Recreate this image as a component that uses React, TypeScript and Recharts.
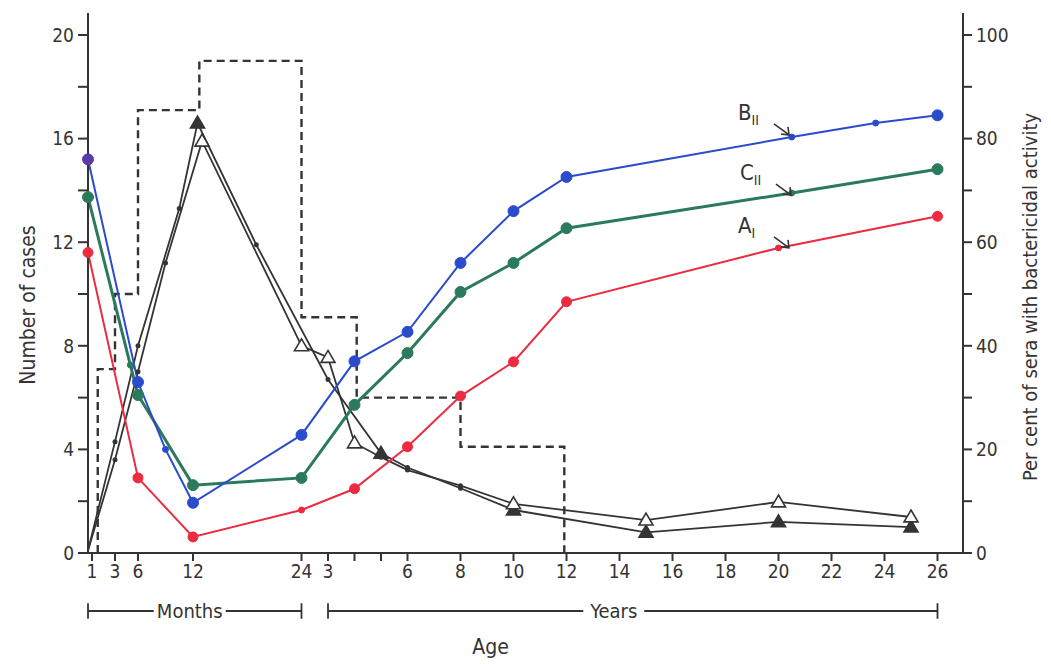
import {
  LineChart,
  Line,
  XAxis,
  YAxis,
  ReferenceLine,
  ReferenceDot,
  Label,
} from "recharts";

const FONT = '"DejaVu Sans Condensed", "DejaVu Sans", sans-serif';
const INK = "#363333";
const BLUE = "#2a4bcc";
const GREEN = "#2b7a5c";
const RED = "#ec2a40";

// age (months) -> position on the hand-drawn, non-uniform age axis
const AGE_ANCHORS: [number, number][] = [
  [0, 0],
  [1, 4],
  [3, 27],
  [6, 50],
  [12, 105],
  [24, 213.5],
  [312, 849.5],
];

function agePos(months: number): number {
  for (let i = 1; i < AGE_ANCHORS.length; i++) {
    const [m0, p0] = AGE_ANCHORS[i - 1];
    const [m1, p1] = AGE_ANCHORS[i];
    if (months <= m1) return p0 + ((months - m0) / (m1 - m0)) * (p1 - p0);
  }
  return AGE_ANCHORS[AGE_ANCHORS.length - 1][1];
}

const X_TICK_MONTHS = [1, 3, 6, 12, 24, 36, 48, 60, 72, 96, 120, 144, 168, 192, 216, 240, 264, 288, 312];
const X_TICK_LABELS = ["1", "3", "6", "12", "24", "3", "", "", "6", "8", "10", "12", "14", "16", "18", "20", "22", "24", "26"];

// per cent of sera with bactericidal activity
const B_AGE = [0, 6, 9, 12, 24, 48, 72, 96, 120, 144, 246, 284, 312];
const B_PCT = [76, 33, 20, 9.7, 22.8, 37, 42.7, 56, 66, 72.6, 80.3, 83, 84.5];
const B_MINOR = [9, 246, 284];

const C_AGE = [0, 5, 6, 12, 24, 48, 72, 96, 120, 144, 246, 312];
const C_PCT = [68.7, 36.3, 30.5, 13.1, 14.5, 28.6, 38.6, 50.4, 56, 62.7, 69.5, 74.1];
const C_MINOR = [5, 246];

const A_AGE = [0, 6, 12, 24, 48, 72, 96, 120, 144, 240, 312];
const A_PCT = [58, 14.5, 3.1, 8.3, 12.4, 20.5, 30.3, 36.9, 48.5, 58.9, 65];
const A_MINOR = [24, 240];

// number of cases (black lines)
const CLOSED_AGE = [0, 3, 6, 10.5, 12.5, 19, 36, 60, 72, 96, 120, 180, 240, 300];
const CLOSED_CASES = [0.1, 4.3, 8.0, 13.3, 16.6, 11.9, 6.7, 3.85, 3.3, 2.5, 1.66, 0.8, 1.2, 1.0];
const CLOSED_TRI = [12.5, 60, 120, 180, 240, 300];

const OPEN_AGE = [0, 3, 6, 9, 13, 24, 36, 48, 60, 72, 96, 120, 180, 240, 300];
const OPEN_CASES = [0.1, 3.6, 7.0, 11.2, 15.9, 8.0, 7.55, 4.25, 3.7, 3.2, 2.6, 1.9, 1.27, 1.97, 1.39];
const OPEN_TRI = [13, 24, 36, 48, 120, 180, 240, 300];

// histogram of cases, bin edges in months
const HIST_EDGES = [1.5, 3, 6, 12.7, 24, 49, 96, 143];
const HIST_CASES = [7.1, 10, 17.1, 19, 9.1, 6.0, 4.1];

const toRows = (ages: number[], vals: number[]) =>
  ages.map((age, i) => ({ age, pos: agePos(age), v: vals[i] }));

const blueRows = toRows(B_AGE, B_PCT);
const greenRows = toRows(C_AGE, C_PCT);
const redRows = toRows(A_AGE, A_PCT);
const closedRows = toRows(CLOSED_AGE, CLOSED_CASES);
const openRows = toRows(OPEN_AGE, OPEN_CASES);
const histRows = [
  { age: HIST_EDGES[0], pos: agePos(HIST_EDGES[0]), v: 0 },
  ...HIST_EDGES.map((e, i) => ({ age: e, pos: agePos(e), v: HIST_CASES[i] ?? 0 })),
];

const xTicks = X_TICK_MONTHS.map(agePos);
const xLabel = (v: number) => {
  const i = xTicks.findIndex((t) => Math.abs(t - v) < 0.01);
  return i >= 0 ? X_TICK_LABELS[i] : "";
};

const colorDot = (color: string, minor: number[], big: number, first?: string) =>
  (props: any) => {
    const { cx, cy, payload, index } = props;
    const r = minor.includes(payload.age) ? 3 : big;
    const fill = index === 0 && first ? first : color;
    return <circle key={`c${index}`} cx={cx} cy={cy} r={r} fill={fill} stroke={fill} />;
  };

const triDot = (tri: number[], open: boolean) => (props: any) => {
  const { cx, cy, payload, index } = props;
  if (payload.age === 0) return <g key={`t${index}`} />;
  if (!tri.includes(payload.age))
    return <circle key={`t${index}`} cx={cx} cy={cy} r={2.5} fill={INK} />;
  const s = 7;
  const d = `M${cx},${cy - s} L${cx + s},${cy + s * 0.7} L${cx - s},${cy + s * 0.7} Z`;
  return (
    <path
      key={`t${index}`}
      d={d}
      fill={open ? "#fff" : INK}
      stroke={INK}
      strokeWidth={1.6}
    />
  );
};

const BracketLabel = (props: any) => {
  const { viewBox, value, shift = 0 } = props;
  const cx = viewBox.x + viewBox.width / 2 + shift;
  const cy = viewBox.y + viewBox.height / 2;
  const w = String(value).length * 11 + 6;
  return (
    <g>
      <rect x={cx - w / 2} y={cy - 12} width={w} height={24} fill="#fff" />
      <text x={cx} y={cy} dy={7} textAnchor="middle" fontSize={20} fill={INK} fontFamily={FONT}>
        {value}
      </text>
    </g>
  );
};

const CurveTag = (letter: string, sub: string) => (props: any) => {
  const { cx, cy } = props;
  const ax = cx + 36;
  const ay = cy + 4;
  const bx = cx + 51;
  const by = cy + 15;
  return (
    <g fontFamily={FONT} fill={INK}>
      <text x={cx} y={cy} fontSize={22}>
        {letter}
        <tspan fontSize={14} dy={5}>
          {sub}
        </tspan>
      </text>
      <path
        d={`M${ax},${ay} L${bx},${by} M${bx - 8},${by - 1} L${bx},${by} L${bx - 1},${by - 8}`}
        stroke={INK}
        strokeWidth={1.6}
        fill="none"
      />
    </g>
  );
};

const BRACKET_Y = -2.24;

export default function App() {
  const tickStyle = { fontSize: 19, fill: INK, fontFamily: FONT };
  return (
    <div style={{ width: 1035, height: 656, background: "#fff" }}>
      <LineChart
        width={1035}
        height={656}
        margin={{ top: 5, right: 0, left: 20, bottom: 0 }}
        style={{ fontFamily: FONT }}
      >
        <XAxis
          type="number"
          dataKey="pos"
          domain={[0, 875]}
          ticks={xTicks}
          tickFormatter={xLabel}
          interval={0}
          allowDecimals
          height={111}
          tickSize={8}
          tickMargin={4}
          tick={tickStyle}
          stroke={INK}
          strokeWidth={2}
        >
          <Label value="Age" position="center" dx={-35} dy={38} fontSize={21} fill={INK} />
        </XAxis>
        <YAxis
          yAxisId="cases"
          domain={[0, 20.85]}
          ticks={[0, 2, 4, 6, 8, 10, 12, 14, 16, 18, 20]}
          tickFormatter={(v: number) => (v % 4 === 0 ? String(v) : "")}
          width={60}
          tickSize={10}
          tickMargin={4}
          tick={tickStyle}
          stroke={INK}
          strokeWidth={2}
        >
          <Label
            value="Number of cases"
            angle={-90}
            position="center"
            dx={-30}
            dy={22}
            fontSize={21}
            fill={INK}
          />
        </YAxis>
        <YAxis
          yAxisId="pct"
          orientation="right"
          domain={[0, 104.25]}
          ticks={[0, 10, 20, 30, 40, 50, 60, 70, 80, 90, 100]}
          tickFormatter={(v: number) => (v % 20 === 0 ? String(v) : "")}
          width={80}
          tickSize={9}
          tickMargin={4}
          tick={tickStyle}
          stroke={INK}
          strokeWidth={2}
        >
          <Label
            value="Per cent of sera with bactericidal activity"
            angle={-90}
            position="center"
            dx={27}
            dy={14}
            fontSize={20}
            fill={INK}
          />
        </YAxis>

        <Line
          yAxisId="cases"
          data={histRows}
          dataKey="v"
          type="stepAfter"
          stroke={INK}
          strokeWidth={2.4}
          strokeDasharray="8 5"
          dot={false}
          isAnimationActive={false}
        />
        <Line
          yAxisId="cases"
          data={closedRows}
          dataKey="v"
          stroke={INK}
          strokeWidth={1.8}
          dot={triDot(CLOSED_TRI, false)}
          isAnimationActive={false}
        />
        <Line
          yAxisId="cases"
          data={openRows}
          dataKey="v"
          stroke={INK}
          strokeWidth={1.8}
          dot={triDot(OPEN_TRI, true)}
          isAnimationActive={false}
        />
        <Line
          yAxisId="pct"
          data={redRows}
          dataKey="v"
          stroke={RED}
          strokeWidth={2}
          dot={colorDot(RED, A_MINOR, 5)}
          isAnimationActive={false}
        />
        <Line
          yAxisId="pct"
          data={greenRows}
          dataKey="v"
          stroke={GREEN}
          strokeWidth={3}
          dot={colorDot(GREEN, C_MINOR, 5.5)}
          isAnimationActive={false}
        />
        <Line
          yAxisId="pct"
          data={blueRows}
          dataKey="v"
          stroke={BLUE}
          strokeWidth={2}
          dot={colorDot(BLUE, B_MINOR, 5.5, "#5b3ca6")}
          isAnimationActive={false}
        />

        <ReferenceDot yAxisId="pct" x={650} y={83.6} r={0} ifOverflow="visible" shape={CurveTag("B", "II")} />
        <ReferenceDot yAxisId="pct" x={652} y={72} r={0} ifOverflow="visible" shape={CurveTag("C", "II")} />
        <ReferenceDot yAxisId="pct" x={650} y={61.8} r={0} ifOverflow="visible" shape={CurveTag("A", "I")} />

        {/* Months / Years brackets under the axis */}
        <ReferenceLine
          yAxisId="cases"
          ifOverflow="visible"
          segment={[
            { x: agePos(0), y: BRACKET_Y },
            { x: agePos(24), y: BRACKET_Y },
          ]}
          stroke={INK}
          strokeWidth={1.8}
          label={<BracketLabel value="Months" shift={-5} />}
        />
        <ReferenceLine
          yAxisId="cases"
          ifOverflow="visible"
          segment={[
            { x: agePos(36), y: BRACKET_Y },
            { x: agePos(312), y: BRACKET_Y },
          ]}
          stroke={INK}
          strokeWidth={1.8}
          label={<BracketLabel value="Years" shift={-19} />}
        />
        {[0, 24, 36, 312].map((m) => (
          <ReferenceLine
            key={m}
            yAxisId="cases"
            ifOverflow="visible"
            segment={[
              { x: agePos(m), y: BRACKET_Y - 0.3 },
              { x: agePos(m), y: BRACKET_Y + 0.3 },
            ]}
            stroke={INK}
            strokeWidth={1.8}
          />
        ))}
      </LineChart>
    </div>
  );
}
